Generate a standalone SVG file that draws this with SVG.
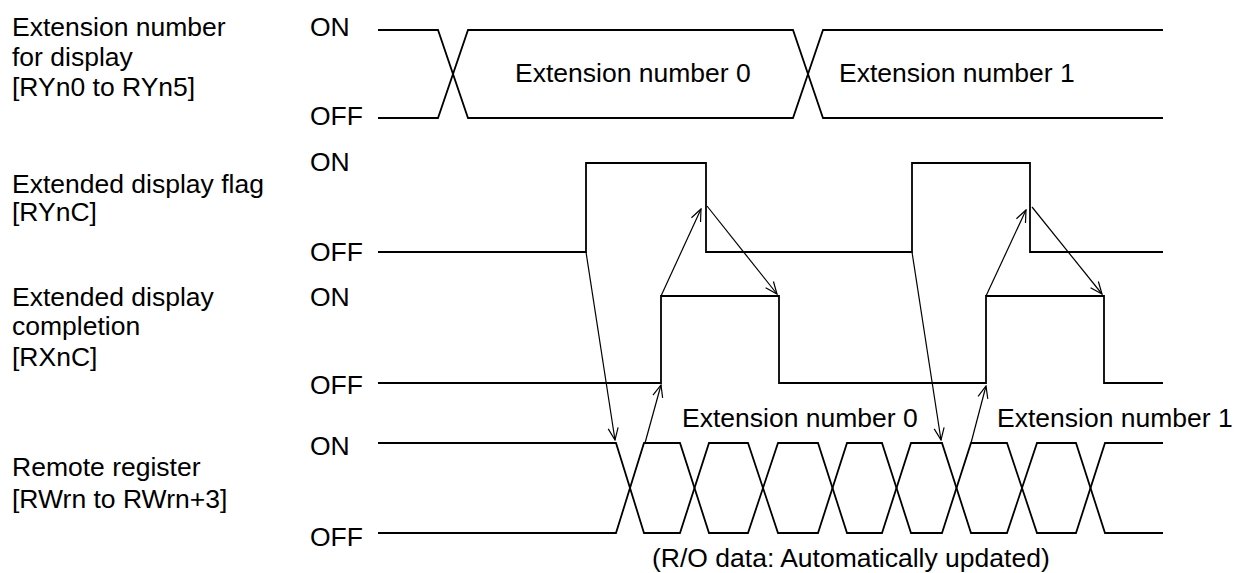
<svg xmlns="http://www.w3.org/2000/svg" width="1241" height="573" viewBox="0 0 1241 573">
<style>
text{font-family:"Liberation Sans",Arial,sans-serif;font-size:26.5px;fill:#000}
.w{fill:none;stroke:#000;stroke-width:1.8;stroke-linejoin:miter}
.a{fill:none;stroke:#000;stroke-width:1.2}
</style>
<defs>
<marker id="ah" markerUnits="userSpaceOnUse" markerWidth="14" markerHeight="12" refX="13" refY="6" orient="auto">
<path d="M1,1 L13,6 L1,11" fill="none" stroke="#000" stroke-width="1.2"/>
</marker>
</defs>
<rect width="1241" height="573" fill="#fff"/>
<g id="labels">
<text x="12" y="36">Extension number</text>
<text x="12" y="66">for display</text>
<text x="12" y="96">[RYn0 to RYn5]</text>
<text x="12" y="193">Extended display flag</text>
<text x="12" y="221">[RYnC]</text>
<text x="12" y="306">Extended display</text>
<text x="12" y="335">completion</text>
<text x="12" y="366">[RXnC]</text>
<text x="12" y="476">Remote register</text>
<text x="12" y="508">[RWrn to RWrn+3]</text>
</g>
<g id="levels">
<text x="310" y="36">ON</text>
<text x="310" y="125">OFF</text>
<text x="310" y="171">ON</text>
<text x="310" y="261">OFF</text>
<text x="310" y="306">ON</text>
<text x="310" y="394">OFF</text>
<text x="310" y="455">ON</text>
<text x="310" y="546">OFF</text>
</g>
<g id="ext-number">
<path class="w" d="M378,30 H438 L468,118 H793 L823,30 H1163"/>
<path class="w" d="M378,118 H438 L468,30 H793 L823,118 H1163"/>
<text x="515" y="82">Extension number 0</text>
<text x="839" y="82">Extension number 1</text>
</g>
<g id="flag">
<path class="w" d="M378,252 H586 V163 H706 V252 H912 V163 H1030 V252 H1163"/>
</g>
<g id="completion">
<path class="w" d="M378,383 H661 V296 H779 V383 H986 V296 H1104 V383 H1163"/>
</g>
<g id="register">
<path class="w" d="M378,443 H616 L644,533 H680 L709,443 H748 L778,533 H818 L847,443 H882 L911,533 H942 L971,443 H1007 L1037,533 H1076 L1105,443 H1163"/>
<path class="w" d="M378,533 H616 L644,443 H680 L709,533 H748 L778,443 H818 L847,533 H882 L911,443 H942 L971,533 H1007 L1037,443 H1076 L1105,533 H1163"/>
<text x="682" y="427">Extension number 0</text>
<text x="997" y="427">Extension number 1</text>
<text x="652" y="567">(R/O data: Automatically updated)</text>
</g>
<g id="connectors">
<line class="a" x1="586" y1="252" x2="615" y2="440" marker-end="url(#ah)"/>
<line class="a" x1="645" y1="443" x2="661" y2="385" marker-end="url(#ah)"/>
<line class="a" x1="661" y1="296" x2="701" y2="209" marker-end="url(#ah)"/>
<line class="a" x1="707" y1="206" x2="777" y2="294" marker-end="url(#ah)"/>
<line class="a" x1="912" y1="252" x2="941" y2="440" marker-end="url(#ah)"/>
<line class="a" x1="971" y1="443" x2="986" y2="386" marker-end="url(#ah)"/>
<line class="a" x1="986" y1="296" x2="1026" y2="210" marker-end="url(#ah)"/>
<line class="a" x1="1032" y1="207" x2="1102" y2="294" marker-end="url(#ah)"/>
</g>
</svg>
